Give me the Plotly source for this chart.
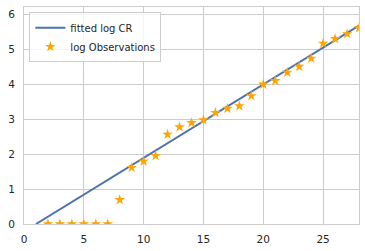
import plotly.graph_objects as go

obs_x = list(range(2, 29))
obs_y = [0.0, 0.0, 0.0, 0.0, 0.0, 0.0, 0.69, 1.61, 1.79, 1.95, 2.56, 2.77, 2.89, 2.97,
         3.18, 3.30, 3.37, 3.66, 3.99, 4.09, 4.33, 4.50, 4.73, 5.16, 5.29, 5.43, 5.60]
fit_x = [1, 28]
fit_y = [0.0, 5.67]

fig = go.Figure()
fig.add_trace(go.Scatter(x=fit_x, y=fit_y, mode="lines", name="fitted log CR",
                         line=dict(color="#4C72B0", width=2)))
fig.add_trace(go.Scatter(x=obs_x, y=obs_y, mode="markers", name="log Observations",
                         marker=dict(symbol="star", color="#FFA500", size=8,
                                     line=dict(width=0)),
                         cliponaxis=True))

axis_common = dict(showgrid=True, gridcolor="#cccccc", gridwidth=1, zeroline=False,
                   showline=True, linecolor="#cccccc", linewidth=1, mirror=True,
                   ticks="", automargin=False,
                   tickfont=dict(family="DejaVu Sans", size=10.5, color="#262626"))
fig.update_xaxes(range=[0, 28], tickvals=[0, 5, 10, 15, 20, 25],
                 ticklabelstandoff=5, **axis_common)
fig.update_yaxes(range=[0, 6.2], tickvals=[0, 1, 2, 3, 4, 5, 6],
                 ticklabelstandoff=6, **axis_common)

fig.update_layout(
    width=365, height=251,
    margin=dict(l=24, r=6, t=7, b=27),
    paper_bgcolor="white", plot_bgcolor="white",
    font=dict(family="DejaVu Sans", size=10.5, color="#262626"),
    legend=dict(x=0.016, y=0.976, xanchor="left", yanchor="top",
                bgcolor="rgba(255,255,255,0.8)", bordercolor="#cccccc", borderwidth=1,
                font=dict(family="DejaVu Sans", size=10, color="#262626"),
                tracegroupgap=0, itemwidth=30),
    showlegend=True,
)
fig.write_html("out.html", post_script="document.body.style.margin='0';",
               config={"displayModeBar": False})
